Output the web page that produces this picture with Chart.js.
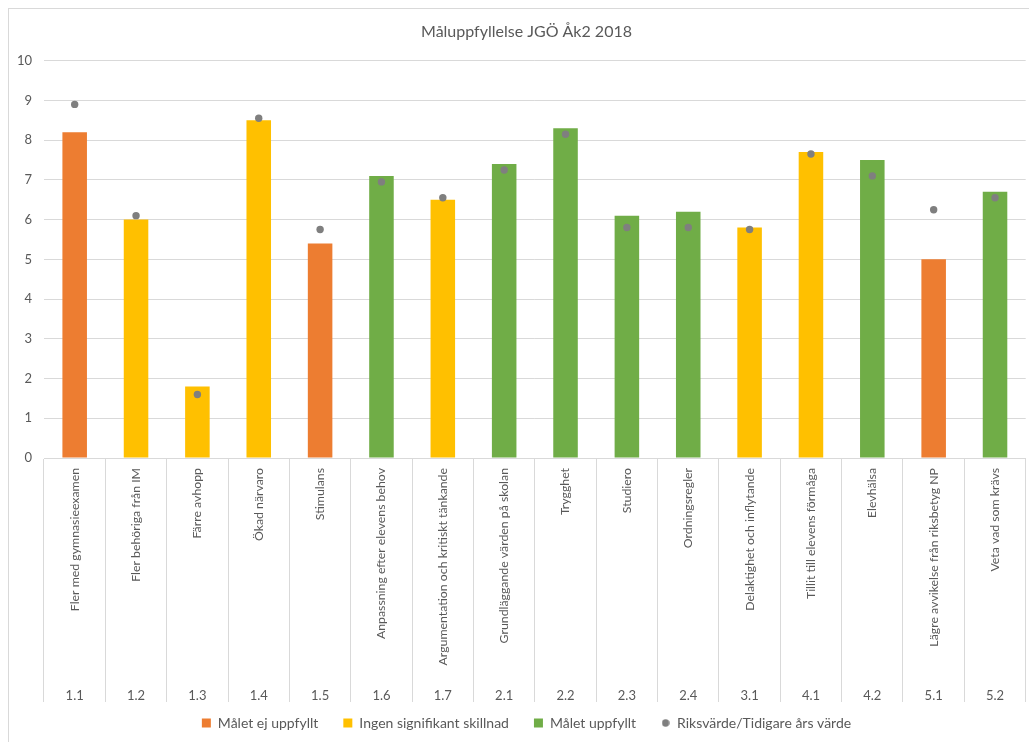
<!DOCTYPE html>
<html>
<head>
<meta charset="utf-8">
<script src="https://cdn.jsdelivr.net/npm/chart.js@4"></script>
<style>
  html, body { margin: 0; padding: 0; background: #fff; overflow: hidden; }
  #wrap { position: absolute; left: 0; top: 0; width: 1029px; height: 742px; overflow: hidden; }
  #frame { position: absolute; left: 8px; top: 8px; width: 1060px; height: 760px; border: 1px solid #d9d9d9; pointer-events: none; }
</style>
</head>
<body>
<div id="wrap"><canvas id="chart"></canvas></div>
<div id="frame"></div>
<script>
const categories = [
  "Fler med gymnasieexamen", "Fler behöriga från IM", "Färre avhopp", "Ökad närvaro",
  "Stimulans", "Anpassning efter elevens behov", "Argumentation och kritiskt tänkande",
  "Grundläggande värden på skolan", "Trygghet", "Studiero", "Ordningsregler",
  "Delaktighet och inflytande", "Tillit till elevens förmåga", "Elevhälsa",
  "Lägre avvikelse från riksbetyg NP", "Veta vad som krävs"
];
const codes = ["1.1", "1.2", "1.3", "1.4", "1.5", "1.6", "1.7", "2.1", "2.2", "2.3", "2.4", "3.1", "4.1", "4.2", "5.1", "5.2"];
const values = [8.2, 6.0, 1.8, 8.5, 5.4, 7.1, 6.5, 7.4, 8.3, 6.1, 6.2, 5.8, 7.7, 7.5, 5.0, 6.7];
// 0 = Målet ej uppfyllt, 1 = Ingen signifikant skillnad, 2 = Målet uppfyllt
const status = [0, 1, 1, 1, 0, 2, 1, 2, 2, 2, 2, 1, 1, 2, 0, 2];
const riksvarde = [8.9, 6.1, 1.6, 8.55, 5.75, 6.95, 6.55, 7.25, 8.15, 5.8, 5.8, 5.75, 7.65, 7.1, 6.25, 6.55];
const seriesNames = ["Målet ej uppfyllt", "Ingen signifikant skillnad", "Målet uppfyllt"];
const seriesColors = ["#ED7D31", "#FFC000", "#70AD47"];
const dotName = "Riksvärde/Tidigare års värde";
const yTicks = [0, 1, 2, 3, 4, 5, 6, 7, 8, 9, 10];

const FONT = "Lato, 'Open Sans', sans-serif";
const TEXT = "#595959";
const GRID = "#d9d9d9";

// small round marker for the legend entry
const dotImg = document.createElement("canvas");
dotImg.width = 8;
dotImg.height = 8;
const dctx = dotImg.getContext("2d");
dctx.fillStyle = "#7f7f7f";
dctx.beginPath();
dctx.arc(4, 4, 3.7, 0, Math.PI * 2);
dctx.fill();

const barSets = seriesNames.map((name, s) => ({
  label: name,
  data: values.map((v, i) => status[i] === s ? v : null),
  backgroundColor: seriesColors[s],
  borderWidth: 0,
  grouped: false,
  barPercentage: 0.4,
  categoryPercentage: 1,
  pointStyle: "rect",
  order: 1
}));

const canvas = document.getElementById("chart");
// wider than the window so title and legend centre like the original (right part is cut off)
canvas.width = 1053;
canvas.height = 742;

new Chart(canvas.getContext("2d"), {
  type: "bar",
  data: {
    labels: categories,
    datasets: [...barSets, {
      type: "line",
      label: dotName,
      data: riksvarde,
      showLine: false,
      pointRadius: 3.7,
      pointHoverRadius: 3.7,
      pointBackgroundColor: "#7f7f7f",
      pointBorderWidth: 0,
      pointStyle: "circle",
      order: -1
    }]
  },
  options: {
    responsive: false,
    animation: false,
    layout: { padding: { left: 0, right: 0, top: 0, bottom: 2 } },
    plugins: {
      title: {
        display: true,
        text: "Måluppfyllelse JGÖ Åk2 2018",
        color: TEXT,
        font: { family: FONT, size: 16, weight: "normal" },
        padding: { top: 22, bottom: 19.5 }
      },
      legend: {
        position: "bottom",
        labels: {
          color: TEXT,
          font: { family: FONT, size: 14 },
          usePointStyle: true,
          boxWidth: 9,
          boxHeight: 9,
          padding: 25,
          sort: (a, b) => a.datasetIndex - b.datasetIndex,
          generateLabels: (chart) => {
            const items = Chart.defaults.plugins.legend.labels.generateLabels(chart);
            items.forEach(it => {
              if (it.datasetIndex === 3) it.pointStyle = dotImg;
            });
            return items;
          }
        }
      },
      tooltip: { enabled: false }
    },
    scales: {
      y: {
        min: 0,
        max: 10,
        afterBuildTicks: (scale) => { scale.ticks = yTicks.map(v => ({ value: v })); },
        afterFit: (scale) => { scale.width = 44; },
        grid: { color: GRID, drawTicks: false },
        border: { display: false },
        ticks: { color: TEXT, font: { family: FONT, size: 13 }, padding: 12 }
      },
      yRight: {
        type: "linear",
        position: "right",
        afterFit: (scale) => { scale.width = 27.3; },
        grid: { display: false },
        border: { display: false },
        ticks: { display: false }
      },
      x: {
        offset: true,
        afterFit: (scale) => { scale.height = 224; },
        grid: { offset: true, drawOnChartArea: false, drawTicks: true, tickLength: 224, tickColor: GRID },
        border: { color: GRID },
        ticks: {
          color: TEXT, font: { family: FONT, size: 12.3 },
          minRotation: 90, maxRotation: 90, autoSkip: false, padding: -214
        }
      },
      x2: {
        type: "category",
        axis: "x",
        position: "bottom",
        labels: codes,
        offset: true,
        afterFit: (scale) => { scale.height = 9; },
        grid: { offset: true, drawOnChartArea: false, drawTicks: true, tickLength: 20, tickColor: GRID },
        border: { display: false },
        ticks: {
          color: TEXT, font: { family: FONT, size: 13 },
          maxRotation: 0, autoSkip: false, mirror: true, padding: -22
        }
      }
    }
  }
});
</script>
</body>
</html>
